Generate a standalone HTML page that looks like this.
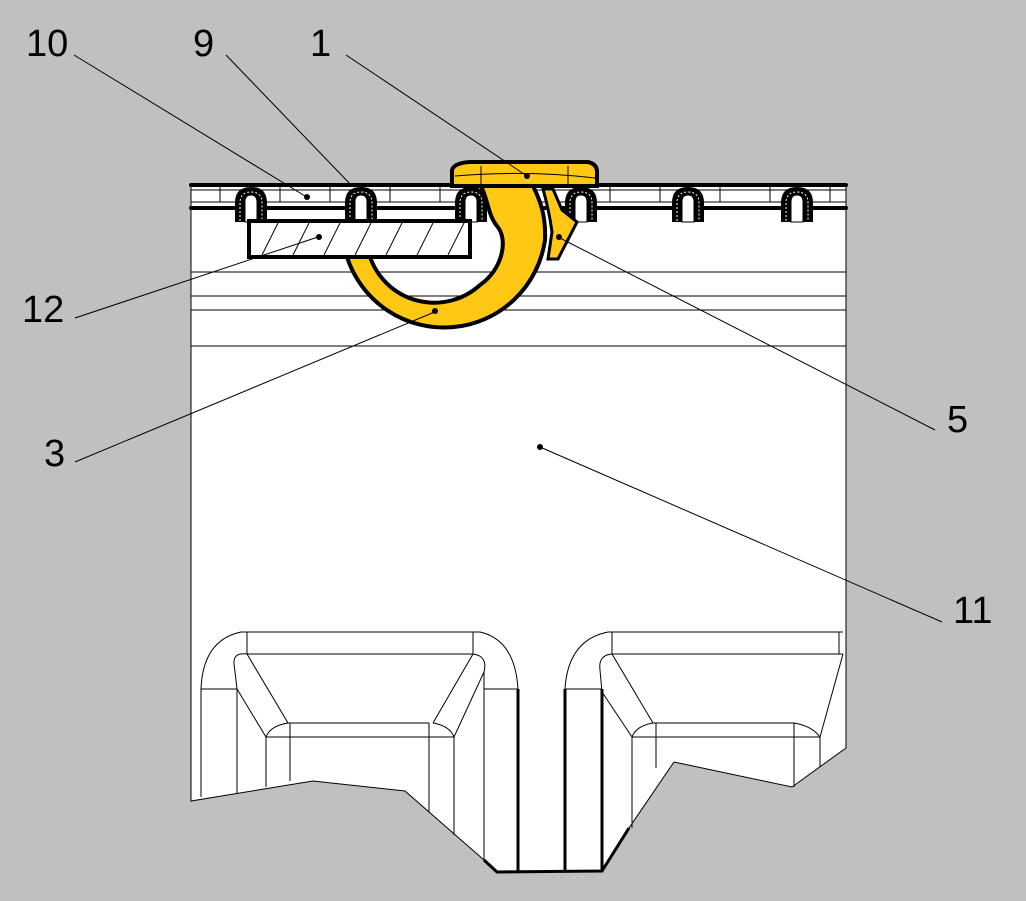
<!DOCTYPE html>
<html><head><meta charset="utf-8"><style>
html,body{margin:0;padding:0;background:#c0c0c0;}
svg{display:block;}
text{font-family:"Liberation Sans",sans-serif;font-size:38px;fill:#000;}
</style></head><body>
<svg width="1026" height="901" viewBox="0 0 1026 901" xmlns="http://www.w3.org/2000/svg">
<defs>
<g id="clip">
<path d="M-16 222 L-16 203 Q-16 187 0 187 Q16 187 16 203 L16 222 Z" fill="#000"/>
<path d="M-6 222 L-6 202 Q-6 195 0 195 Q6 195 6 202 L6 222 Z" fill="#fff" stroke="#000" stroke-width="1"/>
<path d="M-11 221 L-11 203 Q-11 192 0 192 Q11 192 11 203 L11 221" fill="none" stroke="#fff" stroke-width="1" stroke-dasharray="2 2"/>
</g>
</defs>
<rect width="1026" height="901" fill="#c0c0c0"/>
<path d="M191 185 L846 185 L846 748 L792 787 L674 762 L629 828 L602 871 L497 872 L484 860 L405 791 L313 781 L191 801 Z" fill="#fff" stroke="#000" stroke-width="1"/>
<g stroke="#000" stroke-width="1" fill="none">
<line x1="191" y1="272" x2="846" y2="272"/>
<line x1="191" y1="296" x2="846" y2="296"/>
<line x1="191" y1="310" x2="846" y2="310"/>
<line x1="191" y1="346" x2="846" y2="346"/>
<line x1="191" y1="190" x2="846" y2="190"/>
<line x1="191" y1="202" x2="846" y2="202"/>
<path d="M201 797 L201 689 Q203 640 241 632 L480 632 Q515 640 518 689"/>
<line x1="201" y1="689" x2="237" y2="689"/>
<line x1="484" y1="689" x2="518" y2="689"/>
<line x1="247" y1="632" x2="247" y2="654"/>
<line x1="473" y1="632" x2="473" y2="654"/>
<line x1="247" y1="654" x2="473" y2="654"/>
<path d="M247 654 Q233 652 234 664 Q236 680 237 689 L237 793"/>
<line x1="247" y1="654" x2="288" y2="723"/>
<line x1="237" y1="689" x2="266" y2="737"/>
<path d="M288 723 Q270 726 266 737"/>
<line x1="288" y1="723" x2="429" y2="723"/>
<line x1="266" y1="737" x2="454" y2="737"/>
<line x1="266" y1="737" x2="266" y2="787"/>
<line x1="290" y1="723" x2="290" y2="781"/>
<line x1="429" y1="723" x2="429" y2="812"/>
<line x1="454" y1="737" x2="454" y2="835"/>
<path d="M473 654 Q488 656 484 672 L454 737"/>
<line x1="473" y1="654" x2="433" y2="723"/>
<path d="M433 723 Q450 726 454 737"/>
<line x1="484" y1="672" x2="484" y2="860"/>
<path d="M565 689 Q568 640 608 632 L843 632"/>
<line x1="565" y1="689" x2="602" y2="689"/>
<line x1="612" y1="632" x2="612" y2="654"/>
<line x1="839" y1="632" x2="839" y2="654"/>
<line x1="612" y1="654" x2="843" y2="654"/>
<path d="M612 654 Q598 655 600 670 L602 692"/>
<line x1="612" y1="654" x2="653" y2="723"/>
<line x1="602" y1="692" x2="632" y2="737"/>
<path d="M653 723 Q636 726 632 737"/>
<line x1="653" y1="723" x2="794" y2="723"/>
<line x1="632" y1="737" x2="820" y2="737"/>
<line x1="632" y1="737" x2="632" y2="828"/>
<line x1="656" y1="723" x2="656" y2="768"/>
<line x1="794" y1="723" x2="794" y2="787"/>
<line x1="820" y1="737" x2="820" y2="767"/>
<line x1="843" y1="654" x2="820" y2="737"/>
<path d="M794 723 Q812 726 820 737"/>
</g>
<g stroke="#000" stroke-width="3" fill="none">
<line x1="518" y1="689" x2="518" y2="872"/>
<line x1="565" y1="689" x2="565" y2="871"/>
<line x1="602" y1="689" x2="602" y2="871"/>
<path d="M484 860 L497 872 L602 871 L629 828"/>
</g>
<line x1="191" y1="185" x2="846" y2="185" stroke="#000" stroke-width="4" stroke-linecap="round"/>
<line x1="191" y1="208" x2="846" y2="208" stroke="#000" stroke-width="4" stroke-linecap="round"/>
<g stroke="#000" stroke-width="1">
<line x1="220" y1="185" x2="220" y2="202"/><line x1="280" y1="185" x2="280" y2="202"/>
<line x1="330" y1="185" x2="330" y2="202"/><line x1="390" y1="185" x2="390" y2="202"/>
<line x1="440" y1="185" x2="440" y2="202"/><line x1="610" y1="185" x2="610" y2="202"/>
<line x1="660" y1="185" x2="660" y2="202"/><line x1="720" y1="185" x2="720" y2="202"/>
<line x1="770" y1="185" x2="770" y2="202"/><line x1="830" y1="185" x2="830" y2="202"/>
</g>
<use href="#clip" x="251"/><use href="#clip" x="361"/><use href="#clip" x="471"/>
<use href="#clip" x="581"/><use href="#clip" x="688"/><use href="#clip" x="797"/>
<path d="M481 186 C488 200 488 215 497 226 C509 240 502 270 480 285 A68 68 0 0 1 370 257 L347 257 A102 102 0 0 0 545 240 C546 215 540 200 533 186 Z" fill="#ffc814" stroke="#000" stroke-width="4"/>
<rect x="249" y="221" width="221" height="36" fill="#fff" stroke="#000" stroke-width="4"/>
<g stroke="#000" stroke-width="1">
<line x1="262" y1="255" x2="278" y2="223"/><line x1="293" y1="255" x2="309" y2="223"/>
<line x1="324" y1="255" x2="340" y2="223"/><line x1="355" y1="255" x2="371" y2="223"/>
<line x1="386" y1="255" x2="402" y2="223"/><line x1="417" y1="255" x2="433" y2="223"/>
<line x1="448" y1="255" x2="464" y2="223"/>
</g>
<path d="M452 186 L452 170 Q454 163 470 162 L588 162 Q597 164 597 172 L597 186 Z" fill="#ffc814" stroke="#000" stroke-width="4"/>
<g stroke="#000" stroke-width="1" fill="none">
<path d="M455 176 Q525 170 595 178"/>
<line x1="481" y1="166" x2="481" y2="184"/>
<line x1="568" y1="166" x2="568" y2="184"/>
</g>
<path d="M543 189 L553 189 L562 210 L577 222 L558 259 L548 259 L552 232 Q549 210 543 189 Z" fill="#ffc814" stroke="#000" stroke-width="3"/>
<g stroke="#000" stroke-width="1">
<line x1="74" y1="55" x2="305" y2="196"/>
<line x1="226" y1="55" x2="352" y2="186"/>
<line x1="346" y1="55" x2="527" y2="176"/>
<line x1="75" y1="318" x2="318" y2="237"/>
<line x1="75" y1="462" x2="437" y2="311"/>
<line x1="935" y1="430" x2="558" y2="237"/>
<line x1="942" y1="622" x2="540" y2="447"/>
</g>
<g fill="#000">
<circle cx="307" cy="197" r="3"/><circle cx="527" cy="176" r="3"/>
<circle cx="319" cy="237" r="3"/><circle cx="435" cy="311" r="3"/>
<circle cx="559" cy="237" r="3"/><circle cx="540" cy="447" r="3"/>
</g>
<text x="26" y="56">10</text>
<text x="193" y="56">9</text>
<text x="310" y="56">1</text>
<text x="22" y="322">12</text>
<text x="44" y="466">3</text>
<text x="947" y="432">5</text>
<text x="953" y="623">11</text>
</svg>
</body></html>
